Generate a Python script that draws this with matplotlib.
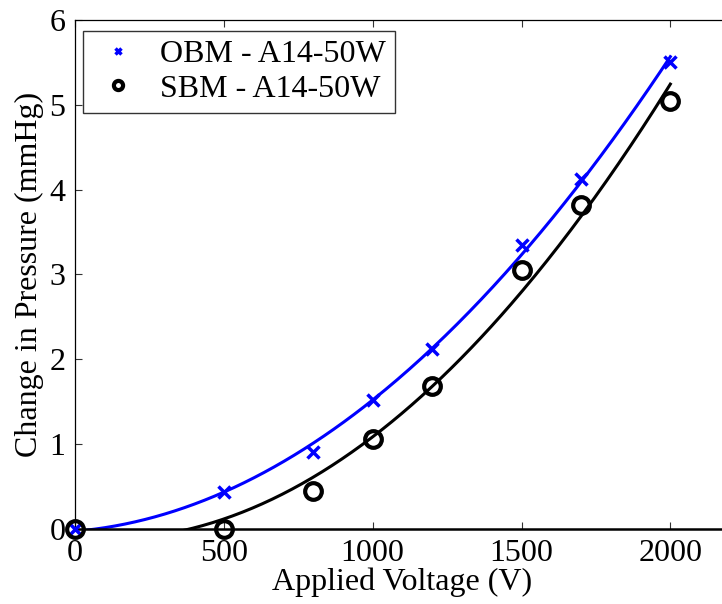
import numpy as np
import matplotlib
matplotlib.use("Agg")
import matplotlib.pyplot as plt

plt.rcParams['font.family'] = ['Liberation Serif', 'DejaVu Serif']

voltage = [0, 500, 800, 1000, 1200, 1500, 1700, 2000]
obm = [0.0, 0.44, 0.91, 1.52, 2.12, 3.35, 4.12, 5.50]
sbm = [0.0, 0.0, 0.45, 1.06, 1.69, 3.05, 3.82, 5.04]
labels = ["OBM - A14-50W", "SBM - A14-50W"]
xticks = [0, 500, 1000, 1500, 2000]
yticks = [0, 1, 2, 3, 4, 5, 6]

fig = plt.figure(figsize=(7.22, 6.04), dpi=100)
ax = fig.add_axes([0.1039, 0.1242, 0.907, 0.8427])

v = np.array(voltage, float)
# quadratic fits of the measured data
pb = np.polyfit(v, obm, 2)
xs_b = np.linspace(0, 2000, 300)
ax.plot(xs_b, np.polyval(pb, xs_b), color='#0000ff', lw=2.2, zorder=2)
ps = np.polyfit(v, sbm, 2)
xs_s = np.linspace(0, 2000, 300)
ax.plot(xs_s, np.polyval(ps, xs_s), color='black', lw=2.2, zorder=2)

h1, = ax.plot(voltage, obm, 'x', color='#0000ff', ms=9, mew=2.5, zorder=3, clip_on=False)
h2, = ax.plot(voltage, sbm, 'o', color='black', mfc='none', ms=12, mew=3, zorder=3, clip_on=False)

ax.set_xlim(0, 2200)
ax.set_ylim(0, 6)
ax.set_xticks(xticks)
ax.set_yticks(yticks)
ax.tick_params(direction='in', length=5, width=0.8, top=True, right=True,
               labelsize=23, color='#333333', pad=7)
for s in ax.spines.values():
    s.set_linewidth(0.9)
ax.spines['bottom'].set_linewidth(1.8)
ax.set_xlabel("Applied Voltage (V)", fontsize=23, labelpad=0)
ax.set_ylabel("Change in Pressure (mmHg)", fontsize=23, labelpad=4)

leg = ax.legend([h1, h2], labels, loc='upper left', fontsize=23, markerscale=0.55,
                frameon=True, fancybox=False, edgecolor='black', handletextpad=0.5,
                borderaxespad=0.25, bbox_to_anchor=(0.0, 0.995), labelspacing=0.15,
                handlelength=1.6, borderpad=0.3)
leg.get_frame().set_linewidth(1.0)

fig.savefig("out.png", dpi=100)
